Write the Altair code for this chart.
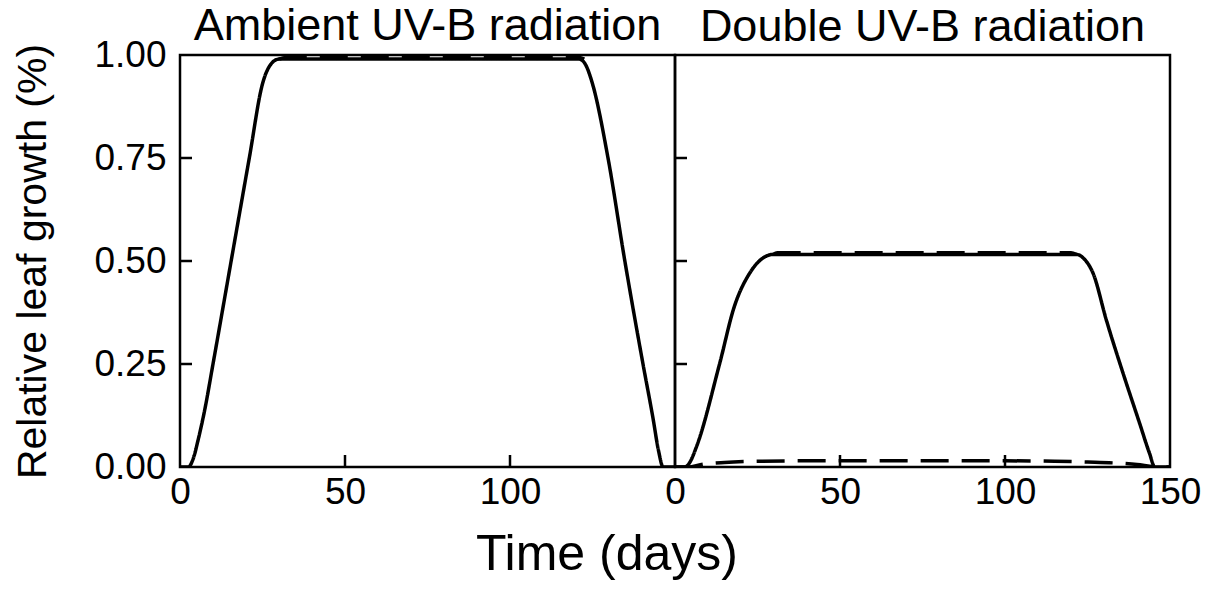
import altair as alt
import pandas as pd

FONT = "Liberation Sans"

# Ambient UV-B panel
amb_solid_day = [0, 2.5, 4, 5.5, 7.5, 10, 15.5, 21, 25, 28, 30, 32, 121, 123, 125, 129.7, 134.8, 140.3, 143.3, 145, 146.4, 148, 150]
amb_solid_val = [0, 0, 0.02, 0.066, 0.139, 0.25, 0.5, 0.75, 0.93, 0.982, 0.99, 0.99, 0.99, 0.975, 0.93, 0.75, 0.5, 0.25, 0.12, 0.04, 0.0, 0, 0]
amb_dash_day = [30, 32, 121, 122.5]
amb_dash_val = [0.99, 0.994, 0.994, 0.99]

# Double UV-B panel
dbl_solid_day = [0, 3, 4.4, 6.5, 13.5, 18, 22.6, 27.2, 29.7, 121.6, 124, 126.7, 130.7, 135.8, 140.8, 143.8, 145.4, 150]
dbl_solid_val = [0, 0, 0.01, 0.049, 0.25, 0.39, 0.47, 0.51, 0.516, 0.516, 0.505, 0.47, 0.357, 0.227, 0.106, 0.033, 0, 0]
dbl_dash_hi_day = [29.7, 31, 120, 121.6]
dbl_dash_hi_val = [0.516, 0.52, 0.52, 0.516]
dbl_dash_lo_day = [0, 4, 8, 15, 25, 40, 60, 80, 100, 115, 125, 135, 140, 145, 147, 150]
dbl_dash_lo_val = [0, 0, 0.006, 0.011, 0.014, 0.015, 0.015, 0.015, 0.015, 0.014, 0.012, 0.009, 0.006, 0.001, 0, 0]

y_ticks = [0.25, 0.5, 0.75]
y_labels = [0, 0.25, 0.5, 0.75, 1.0]
x_ticks = [50, 100]
amb_x_labels = [0, 50, 100]
dbl_x_labels = [0, 50, 100, 150]

W, H = 495, 412
TICK = 12
LW = 3.5

xscale = alt.Scale(domain=[0, 150], nice=False)
yscale = alt.Scale(domain=[0, 1], nice=False)


def make_panel(title, lines, xlabels, show_y, title_offset):
    xaxis = alt.Axis(values=xlabels, title=None, labelFont=FONT, labelFontSize=37,
                     labelColor="black", ticks=False, domain=False, grid=False,
                     labelPadding=7, labelFlush=False)
    if show_y:
        yaxis = alt.Axis(values=y_labels, format=".2f", title="Relative leaf growth (%)",
                         labelFont=FONT, labelFontSize=37, labelColor="black",
                         titleFont=FONT, titleFontSize=41, titleFontWeight="normal",
                         titleColor="black", titlePadding=39, ticks=False, domain=False,
                         grid=False, labelPadding=14, labelFlush=False)
    else:
        yaxis = None
    layers = []
    for day, val, dash in lines:
        df = pd.DataFrame({"day": day, "value": val})
        m = alt.Chart(df).mark_line(color="black", strokeWidth=LW, strokeDash=dash,
                                    interpolate="monotone", clip=True)
        layers.append(m.encode(x=alt.X("day:Q", scale=xscale, axis=xaxis),
                               y=alt.Y("value:Q", scale=yscale, axis=yaxis)))
    yt = alt.Chart(pd.DataFrame({"v": y_ticks})).mark_rule(color="black", strokeWidth=2.5).encode(
        y=alt.Y("v:Q", scale=yscale, axis=yaxis), x=alt.value(0), x2=alt.value(TICK))
    xt = alt.Chart(pd.DataFrame({"v": x_ticks})).mark_rule(color="black", strokeWidth=2.5).encode(
        x=alt.X("v:Q", scale=xscale, axis=xaxis), y=alt.value(H), y2=alt.value(H - TICK))
    return alt.layer(*layers, yt, xt).properties(
        width=W, height=H,
        title=alt.TitleParams(title, font=FONT, fontSize=45, fontWeight="normal",
                              color="black", anchor="middle", offset=title_offset,
                              frame="group"))


left = make_panel("Ambient UV-B radiation",
                  [(amb_solid_day, amb_solid_val, [1, 0]),
                   (amb_dash_day, amb_dash_val, [28, 13])],
                  amb_x_labels, True, -13)
right = make_panel("Double UV-B radiation",
                   [(dbl_solid_day, dbl_solid_val, [1, 0]),
                    (dbl_dash_hi_day, dbl_dash_hi_val, [28, 13]),
                    (dbl_dash_lo_day, dbl_dash_lo_val, [28, 13])],
                   dbl_x_labels, False, 5)

chart = alt.hconcat(left, right, spacing=0, bounds="flush").properties(
    title=alt.TitleParams("Time (days)", orient="bottom", anchor="middle", font=FONT,
                          fontSize=50, fontWeight="normal", color="black", offset=19),
    padding={"left": 11, "top": 2, "right": 5, "bottom": 5},
    background="white",
).configure_view(stroke="black", strokeWidth=2.5)

chart.save("out.html", embed_options={"renderer": "svg", "actions": False})
